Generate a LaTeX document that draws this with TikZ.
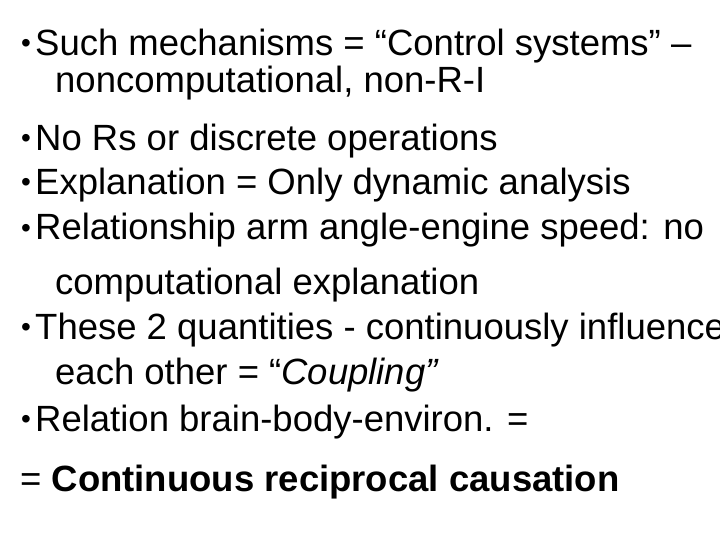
\documentclass[tikz,border=0pt]{standalone}
\usepackage{fontspec}
\setmainfont{Liberation Sans}
\begin{document}
\begin{tikzpicture}[x=1pt,y=-1pt,
  txt/.style={anchor=base west,inner sep=0pt,font=\fontsize{36.5}{40}\selectfont}]
	%frame
	\useasboundingbox (0,0) rectangle (720,540);
	%bullets
	\foreach \y/\n in {56/b1,151/b2,195/b3,240/b4,339/b5,431/b6}
		\node[txt,font=\fontsize{28}{32}\selectfont] (\n) at (21,\y-3) {•};
	%lines
	\node[txt] (l1) at (35,56) {Such mechanisms = “Control systems” –};
	\node[txt] (l1b) at (55,93) {noncomputational, non-R-I};
	\node[txt] (l2) at (35,151) {No Rs or discrete operations};
	\node[txt] (l3) at (35,195) {Explanation = Only dynamic analysis};
	\node[txt] (l4) at (35,240) {Relationship arm angle-engine speed: no};
	\node[txt] (l4b) at (55,294) {computational explanation};
	\node[txt] (l5) at (35,339) {These 2 quantities - continuously influence};
	\node[txt] (l5b) at (55,384) {each other = “\textit{Coupling”}};
	\node[txt] (l6) at (35,431) {Relation brain-body-environ. =};
	\node[txt] (l6b) at (20,491) {= \textbf{Continuous reciprocal causation}};
\end{tikzpicture}
\end{document}
